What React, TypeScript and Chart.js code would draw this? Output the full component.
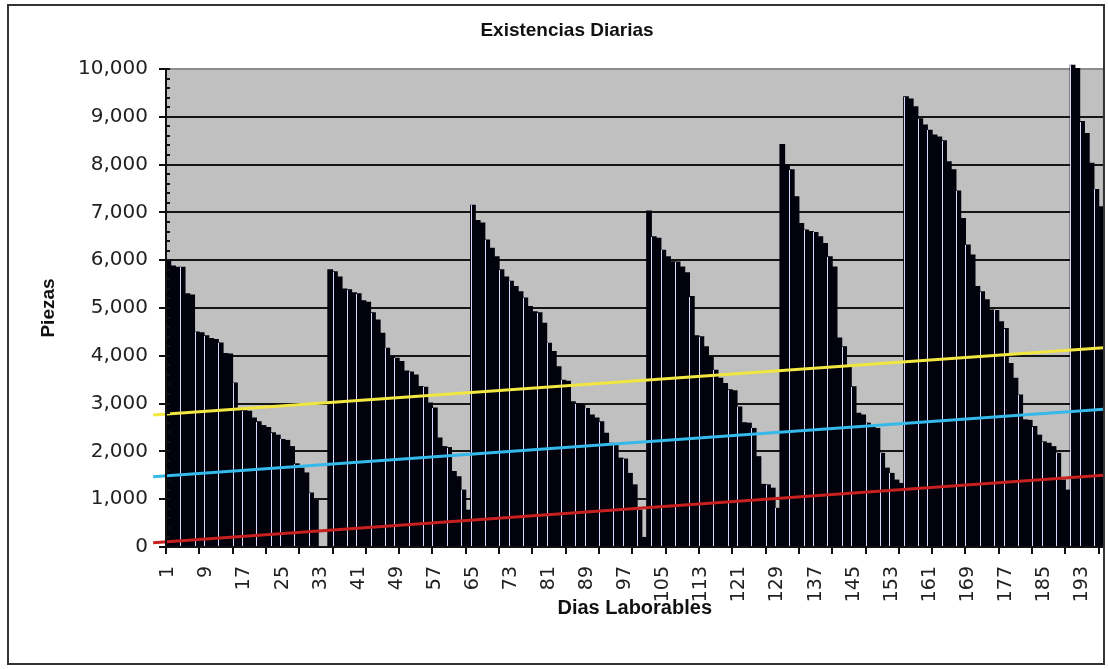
import React, { useEffect, useRef } from 'react';
import { Chart, registerables } from 'chart.js';

Chart.register(...registerables);

// Existencias diarias (piezas) por ciclo de reabastecimiento
const ciclo1 = [6000, 5880, 5850, 5850, 5300, 5270, 4500, 4480, 4420, 4360, 4340, 4270, 4050, 4040, 3430, 2860, 2850, 2840, 2700, 2620, 2540, 2500, 2390, 2340, 2250, 2230, 2100, 1740, 1650, 1550, 1130, 980, 0, 0];
const ciclo2 = [5800, 5760, 5650, 5400, 5380, 5320, 5300, 5150, 5120, 4900, 4750, 4470, 4160, 3980, 3950, 3880, 3680, 3660, 3600, 3360, 3340, 3010, 2910, 2280, 2100, 2080, 1580, 1470, 1190, 770];
const ciclo3 = [7150, 6830, 6780, 6420, 6250, 6070, 5800, 5650, 5560, 5450, 5340, 5210, 5030, 4920, 4900, 4680, 4260, 4090, 3770, 3490, 3470, 3040, 3000, 2980, 2900, 2760, 2700, 2620, 2380, 2170, 2150, 1860, 1840, 1540, 1300, 770, 200];
const ciclo4 = [7030, 6490, 6460, 6210, 6070, 5970, 5960, 5860, 5740, 5240, 4420, 4400, 4190, 3980, 3700, 3530, 3420, 3290, 3270, 2930, 2600, 2590, 2480, 1890, 1310, 1300, 1230, 810];
const ciclo5 = [8420, 7990, 7890, 7330, 6770, 6630, 6600, 6580, 6490, 6350, 6070, 5860, 4370, 4190, 3770, 3350, 2800, 2760, 2590, 2520, 2480, 1960, 1650, 1540, 1400, 1330];
const ciclo6 = [9420, 9370, 9210, 8960, 8830, 8720, 8620, 8580, 8500, 8060, 7890, 7450, 6870, 6320, 6110, 5450, 5340, 5170, 4960, 4950, 4710, 4570, 3840, 3530, 3180, 2660, 2650, 2520, 2340, 2200, 2170, 2100, 1960, 1400, 1190];
const ciclo7 = [10080, 10010, 8900, 8650, 8030, 7480, 7120];

const existencias = [...ciclo1, ...ciclo2, ...ciclo3, ...ciclo4, ...ciclo5, ...ciclo6, ...ciclo7];
const dias = existencias.map((_, i) => String(i + 1));

// Líneas de tendencia (día inicial / final, piezas)
const tendenciaDias = [-2.2, 197.5];
const tendenciaAlta = [2760, 4170];
const tendenciaMedia = [1470, 2880];
const tendenciaBaja = [90, 1500];

const titulo = 'Existencias Diarias';
const yMax = 10000;
const yStep = 1000;
const yMinorStep = 200;
const xLabelEvery = 8;
const xTickEvery = 7;

const TICK_FONT = "'DejaVu Sans', sans-serif";
const TITLE_FONT = "'Liberation Sans', Arial, sans-serif";
const BAR_EDGE_COLOR = '#d8d8ff';

const decor = {
  id: 'decor',
  beforeDraw(chart: any) {
    const { ctx, chartArea: a, width, height } = chart;
    ctx.save();
    ctx.fillStyle = '#ffffff';
    ctx.fillRect(0, 0, width, height);
    ctx.fillStyle = '#c0c0c0';
    ctx.fillRect(a.left, a.top, a.right - a.left, a.bottom - a.top);
    ctx.strokeStyle = '#8c8c8c';
    ctx.lineWidth = 1.5;
    ctx.beginPath();
    ctx.moveTo(a.right, a.top);
    ctx.lineTo(a.right, a.bottom);
    ctx.stroke();
    ctx.restore();
  },
  afterDatasetDraw(chart: any, args: any) {
    const meta = args.meta;
    if (meta.type !== 'bar') return;
    const { ctx } = chart;
    ctx.save();
    ctx.fillStyle = BAR_EDGE_COLOR;
    meta.data.forEach((el: any, i: number) => {
      if (![0, 3, 6].includes(i % 8)) return;
      const { x, y, base, width } = el.getProps(['x', 'y', 'base', 'width'], true);
      if (Math.abs(base - y) < 1) return;
      const left = Math.round(x - width / 2);
      const top = Math.round(Math.min(y, base));
      ctx.fillRect(left, top, 1, Math.round(Math.max(y, base)) - top);
    });
    ctx.restore();
  },
  afterDatasetsDraw(chart: any) {
    const { ctx, chartArea: a, scales } = chart;
    const y = scales.y;
    const xt = scales.xt;
    ctx.save();
    ctx.strokeStyle = '#111';
    ctx.lineWidth = 2;
    ctx.beginPath();
    ctx.moveTo(a.left, a.top - 1);
    ctx.lineTo(a.left, a.bottom);
    ctx.lineTo(a.right, a.bottom);
    ctx.stroke();
    for (let v = 0; v <= yMax; v += yMinorStep) {
      const py = Math.round(y.getPixelForValue(v));
      const major = v % yStep === 0;
      ctx.beginPath();
      ctx.moveTo(major ? a.left - 7 : a.left, py);
      ctx.lineTo(a.left + 4, py);
      ctx.stroke();
    }
    for (let k = 0; k <= dias.length; k += xTickEvery) {
      const px = Math.round(xt.getPixelForValue(k + 0.5));
      ctx.beginPath();
      ctx.moveTo(px, a.bottom);
      ctx.lineTo(px, a.bottom + 7);
      ctx.stroke();
    }
    ctx.restore();
  },
  afterDraw(chart: any) {
    const { ctx } = chart;
    ctx.save();
    ctx.strokeStyle = '#333';
    ctx.lineWidth = 2;
    ctx.strokeRect(8, 5, 1096, 659);
    ctx.fillStyle = '#111';
    ctx.font = `bold 19px ${TITLE_FONT}`;
    ctx.textAlign = 'center';
    ctx.textBaseline = 'middle';
    ctx.fillText(titulo, 567, 31);
    ctx.restore();
  },
};

const lineDataset = (label: string, values: number[], color: string) => ({
  type: 'line' as const,
  label,
  xAxisID: 'xt',
  data: tendenciaDias.map((d, i) => ({ x: d, y: values[i] })),
  borderColor: color,
  borderWidth: 3,
  pointRadius: 0,
  fill: false,
  clip: false as any,
  order: 0,
});

export default function App() {
  const ref = useRef<HTMLCanvasElement>(null);

  useEffect(() => {
    document.body.style.margin = '0';
    const canvas = ref.current;
    if (!canvas) return;
    const chart = new Chart(canvas, {
      type: 'bar',
      data: {
        labels: dias,
        datasets: [
          lineDataset('Tendencia alta', tendenciaAlta, '#f2e640'),
          lineDataset('Tendencia media', tendenciaMedia, '#35b8ea'),
          lineDataset('Tendencia baja', tendenciaBaja, '#c8201e'),
          {
            type: 'bar',
            label: 'Existencias',
            data: existencias,
            backgroundColor: '#02020c',
            borderWidth: 0,
            barPercentage: 1,
            categoryPercentage: 1,
            inflateAmount: 0.5,
            grouped: false,
            clip: false as any,
            order: 2,
          } as any,
        ],
      },
      options: {
        animation: false,
        responsive: false,
        datasets: { bar: { barPercentage: 1, categoryPercentage: 1 } },
        layout: { padding: { left: 0, right: 4.5, top: 69, bottom: 0 } },
        plugins: {
          legend: { display: false },
          tooltip: { enabled: false },
          title: { display: false },
        },
        scales: {
          x: {
            type: 'category',
            offset: true,
            grid: { display: false, drawTicks: false, offset: true },
            border: { display: false },
            ticks: {
              autoSkip: false,
              minRotation: 90,
              maxRotation: 90,
              padding: 19,
              color: '#222',
              font: { family: TICK_FONT, size: 19 },
              callback: (_v: any, i: number) => (i % xLabelEvery === 0 ? dias[i] : ''),
            },
            title: {
              display: true,
              text: 'Dias Laborables',
              color: '#111',
              font: { family: TITLE_FONT, size: 20, weight: 'bold', lineHeight: 1.2 },
              padding: { top: 0, bottom: 49 },
            },
            afterFit: (s: any) => {
              s.height = 122;
              s.paddingLeft = 0;
              s.paddingRight = 0;
            },
          },
          xt: {
            type: 'linear',
            display: false,
            position: 'top',
            min: 0.5,
            max: existencias.length + 0.5,
            offset: false,
          },
          y: {
            type: 'linear',
            min: 0,
            max: yMax,
            grid: {
              color: (c: any) => (c.tick && c.tick.value === yMax ? '#8c8c8c' : '#151515'),
              lineWidth: 2,
              drawTicks: false,
            },
            border: { display: false },
            ticks: {
              stepSize: yStep,
              padding: 18,
              color: '#222',
              font: { family: TICK_FONT, size: 20 },
              callback: (v: any) => Number(v).toLocaleString('en-US'),
            },
            title: {
              display: true,
              text: 'Piezas',
              color: '#111',
              font: { family: TITLE_FONT, size: 19, weight: 'bold', lineHeight: 1.2 },
              padding: { top: 37.6, bottom: 0 },
            },
            afterFit: (s: any) => {
              s.width = 166;
              s.paddingTop = 0;
              s.paddingBottom = 0;
            },
          },
        },
      } as any,
      plugins: [decor],
    });
    return () => chart.destroy();
  }, []);

  return <canvas ref={ref} width={1108} height={669} style={{ display: 'block' }} />;
}
